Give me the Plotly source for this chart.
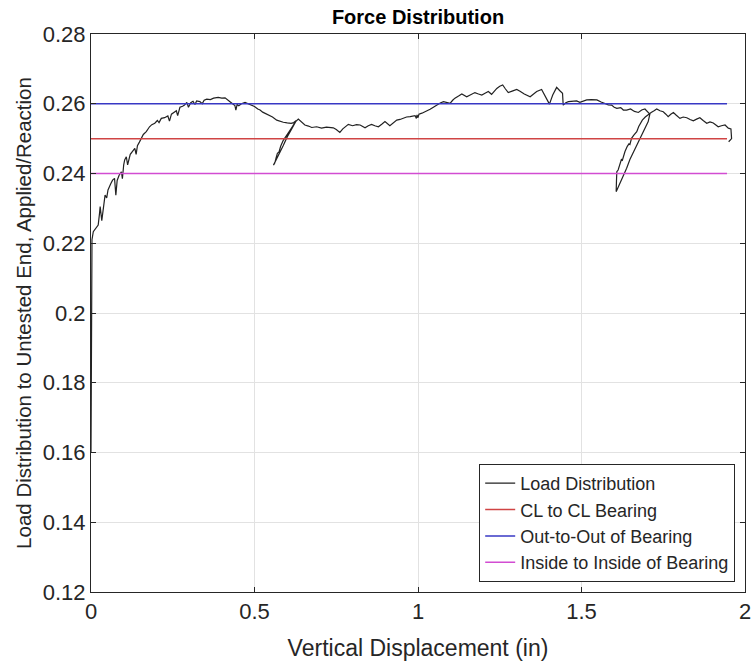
import plotly.graph_objects as go

# ---- data ----
disp = [0.000, 0.001, 0.001, 0.002, 0.002, 0.003, 0.007, 0.015, 0.022, 0.026, 0.028, 0.033, 0.038, 0.043, 0.048,
        0.052, 0.060, 0.066, 0.072, 0.076, 0.080, 0.086, 0.093, 0.096, 0.100, 0.103, 0.108, 0.112, 0.120, 0.128,
        0.134, 0.138, 0.142, 0.148, 0.154, 0.160, 0.169, 0.175, 0.179, 0.186, 0.195, 0.203, 0.208, 0.215, 0.225,
        0.235, 0.240, 0.246, 0.255, 0.261, 0.265, 0.272, 0.280, 0.286, 0.293, 0.298, 0.305, 0.312, 0.318, 0.323,
        0.333, 0.340, 0.346, 0.354, 0.365, 0.375, 0.389, 0.400, 0.410, 0.418, 0.425, 0.433, 0.440, 0.443, 0.447,
        0.452, 0.460, 0.471, 0.480, 0.491, 0.500, 0.510, 0.517, 0.525, 0.535, 0.542, 0.555, 0.568, 0.578, 0.588,
        0.600, 0.612, 0.620, 0.628,
        0.615, 0.600, 0.588, 0.575, 0.565, 0.558,
        0.562, 0.566, 0.570, 0.575, 0.580, 0.588, 0.593, 0.600, 0.606, 0.615, 0.625, 0.634,
        0.645, 0.654, 0.665, 0.675, 0.690, 0.705, 0.720, 0.741, 0.750, 0.761, 0.770, 0.787, 0.800, 0.812, 0.823,
        0.838, 0.848, 0.858, 0.868, 0.879, 0.890, 0.899, 0.914, 0.925, 0.935, 0.945, 0.955, 0.965, 0.976, 0.985,
        0.991, 0.995, 0.997, 1.000, 1.003, 1.012, 1.020, 1.027, 1.037, 1.047, 1.057, 1.068, 1.078, 1.088, 1.098,
        1.106, 1.113, 1.124, 1.134, 1.149, 1.160, 1.174, 1.185, 1.195, 1.205, 1.215, 1.225, 1.233, 1.241, 1.250,
        1.259, 1.267, 1.276, 1.290, 1.302, 1.312, 1.325, 1.343, 1.353, 1.363, 1.378, 1.390, 1.402, 1.412, 1.424,
        1.433, 1.442, 1.444, 1.452, 1.460, 1.475, 1.485, 1.495, 1.505, 1.516, 1.530, 1.547, 1.560, 1.572, 1.582,
        1.592, 1.600, 1.608, 1.620, 1.628, 1.638, 1.650, 1.662, 1.674, 1.684, 1.694, 1.702, 1.709,
        1.704, 1.694, 1.684, 1.670, 1.658, 1.648, 1.638, 1.628, 1.618, 1.610, 1.606,
        1.607, 1.608, 1.612, 1.618, 1.622, 1.625, 1.630, 1.633, 1.640, 1.645, 1.648, 1.653, 1.660, 1.669, 1.675,
        1.680, 1.686, 1.695, 1.705, 1.713,
        1.722, 1.730, 1.740, 1.750, 1.758, 1.765, 1.773, 1.781, 1.790, 1.801, 1.811, 1.822, 1.832, 1.842, 1.852,
        1.862, 1.872, 1.883, 1.893, 1.903, 1.910, 1.918, 1.928, 1.939, 1.949, 1.957, 1.959, 1.950]

load = [0.1600, 0.1750, 0.1900, 0.2050, 0.2150, 0.2210, 0.2233, 0.2245, 0.2252, 0.2285, 0.2305, 0.2265, 0.2300, 0.2338, 0.2330,
        0.2353, 0.2370, 0.2381, 0.2386, 0.2338, 0.2380, 0.2395, 0.2405, 0.2385, 0.2425, 0.2439, 0.2448, 0.2425, 0.2455, 0.2465,
        0.2472, 0.2455, 0.2480, 0.2490, 0.2501, 0.2512, 0.2520, 0.2530, 0.2534, 0.2540, 0.2544, 0.2552, 0.2546, 0.2558, 0.2560,
        0.2565, 0.2550, 0.2570, 0.2576, 0.2580, 0.2566, 0.2590, 0.2593, 0.2596, 0.2604, 0.2590, 0.2603, 0.2607, 0.2598, 0.2608,
        0.2606, 0.2600, 0.2610, 0.2613, 0.2612, 0.2616, 0.2618, 0.2616, 0.2617, 0.2612, 0.2606, 0.2600, 0.2595, 0.2582, 0.2598,
        0.2594, 0.2600, 0.2604, 0.2600, 0.2594, 0.2592, 0.2585, 0.2582, 0.2576, 0.2572, 0.2568, 0.2562, 0.2553, 0.2549, 0.2547,
        0.2545, 0.2544, 0.2546, 0.2552,
        0.2530, 0.2505, 0.2480, 0.2455, 0.2435, 0.2424,
        0.2430, 0.2445, 0.2458, 0.2462, 0.2478, 0.2495, 0.2501, 0.2512, 0.2520, 0.2533, 0.2548, 0.2556,
        0.2545, 0.2539, 0.2536, 0.2532, 0.2534, 0.2530, 0.2533, 0.2531, 0.2526, 0.2518, 0.2528, 0.2541, 0.2537, 0.2540, 0.2539,
        0.2531, 0.2537, 0.2541, 0.2537, 0.2534, 0.2542, 0.2549, 0.2537, 0.2546, 0.2553, 0.2555, 0.2558, 0.2562, 0.2563, 0.2565,
        0.2566, 0.2558, 0.2568, 0.2560, 0.2570, 0.2573, 0.2576, 0.2578, 0.2584, 0.2590, 0.2596, 0.2602, 0.2606, 0.2604, 0.2601,
        0.2610, 0.2616, 0.2622, 0.2628, 0.2620, 0.2626, 0.2632, 0.2628, 0.2625, 0.2630, 0.2635, 0.2627, 0.2636, 0.2644, 0.2650,
        0.2654, 0.2643, 0.2632, 0.2637, 0.2641, 0.2636, 0.2628, 0.2620, 0.2628, 0.2635, 0.2641, 0.2620, 0.2599, 0.2625, 0.2647,
        0.2638, 0.2630, 0.2596, 0.2603, 0.2606, 0.2608, 0.2608, 0.2604, 0.2608, 0.2611, 0.2612, 0.2611, 0.2605, 0.2601, 0.2597,
        0.2596, 0.2590, 0.2587, 0.2589, 0.2582, 0.2582, 0.2585, 0.2578, 0.2575, 0.2582, 0.2585, 0.2578, 0.2570,
        0.2549, 0.2530, 0.2510, 0.2485, 0.2463, 0.2440, 0.2415, 0.2395, 0.2377, 0.2360, 0.2348,
        0.2380, 0.2405, 0.2410, 0.2429, 0.2440, 0.2438, 0.2455, 0.2463, 0.2478, 0.2485, 0.2483, 0.2501, 0.2510, 0.2520, 0.2535,
        0.2545, 0.2553, 0.2562, 0.2570, 0.2575,
        0.2580, 0.2585, 0.2580, 0.2577, 0.2570, 0.2563, 0.2570, 0.2575, 0.2567, 0.2558, 0.2562, 0.2560, 0.2555, 0.2551, 0.2556,
        0.2560, 0.2552, 0.2544, 0.2548, 0.2545, 0.2540, 0.2534, 0.2537, 0.2539, 0.2530, 0.2528, 0.2500, 0.2491]

ref_x = [0.0, 1.945]
cl_to_cl = 0.25
out_to_out = 0.26
inside_to_inside = 0.24

x_ticks = [0, 0.5, 1, 1.5, 2]
x_tick_labels = ["0", "0.5", "1", "1.5", "2"]
y_ticks = [0.12, 0.14, 0.16, 0.18, 0.20, 0.22, 0.24, 0.26, 0.28]
y_tick_labels = ["0.12", "0.14", "0.16", "0.18", "0.2", "0.22", "0.24", "0.26", "0.28"]

FONT = "Liberation Sans, Arial, sans-serif"
TXT = "#262626"

fig = go.Figure()
fig.add_trace(go.Scatter(x=disp, y=load, mode="lines", name="Load Distribution",
                         line=dict(color="#222222", width=1.2)))
fig.add_trace(go.Scatter(x=ref_x, y=[cl_to_cl] * 2, mode="lines", name="CL to CL Bearing",
                         line=dict(color="#d04444", width=1.5)))
fig.add_trace(go.Scatter(x=ref_x, y=[out_to_out] * 2, mode="lines", name="Out-to-Out of Bearing",
                         line=dict(color="#3838c4", width=1.5)))
fig.add_trace(go.Scatter(x=ref_x, y=[inside_to_inside] * 2, mode="lines", name="Inside to Inside of Bearing",
                         line=dict(color="#d24cd2", width=1.5)))

axis_common = dict(showline=True, linecolor=TXT, linewidth=1, mirror="ticks",
                   ticks="inside", ticklen=5, tickcolor=TXT,
                   showgrid=True, gridcolor="#e2e2e2", gridwidth=1, zeroline=False,
                   tickfont=dict(family=FONT, size=22, color=TXT))

fig.update_xaxes(range=[0, 2], tickvals=x_ticks, ticktext=x_tick_labels,
                 title=dict(text="Vertical Displacement (in)", font=dict(family=FONT, size=23, color=TXT), standoff=16),
                 **axis_common)
fig.update_yaxes(range=[0.12, 0.28], tickvals=y_ticks, ticktext=y_tick_labels,
                 title=dict(text="Load Distribution to Untested End, Applied/Reaction",
                            font=dict(family=FONT, size=20.5, color=TXT), standoff=5),
                 **axis_common)

fig.update_layout(
    width=754, height=663,
    margin=dict(l=91, r=9, t=34, b=71, autoexpand=False),
    paper_bgcolor="white", plot_bgcolor="white",
    title=dict(text="<b>Force Distribution</b>", x=0.5, xref="paper", xanchor="center",
               y=1 - 17 / 663, yref="container", yanchor="middle",
               font=dict(family=FONT, size=20, color="#000000")),
    showlegend=True,
    legend=dict(x=0.985, y=0.018, xanchor="right", yanchor="bottom",
                bgcolor="white", bordercolor=TXT, borderwidth=1,
                font=dict(family=FONT, size=18, color=TXT),
                tracegroupgap=0, itemwidth=30),
)

fig.write_html("out.html")
